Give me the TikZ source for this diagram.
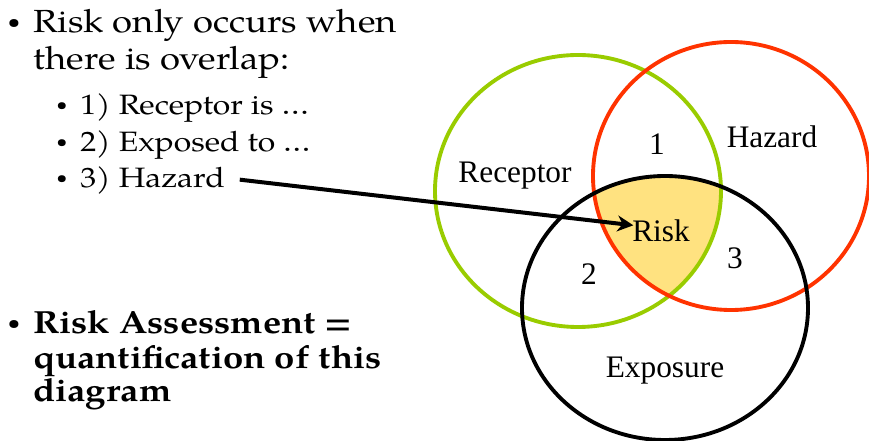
\documentclass[tikz,border=0pt]{standalone}
\usepackage{fontspec}
\setmainfont{Liberation Serif}
\newfontfamily\palfont{TeX Gyre Pagella}[FakeStretch=1.14]
\usetikzlibrary{arrows.meta,positioning}
\definecolor{leafgreen}{RGB}{153,204,0}
\definecolor{hazred}{RGB}{255,51,0}
\definecolor{riskyellow}{RGB}{255,226,128}
\tikzset{
  ring/.style={line width=2.9pt},
  lbl/.style={font=\fontsize{23.5}{27}\selectfont,anchor=base,inner sep=0pt},
  bul/.style={font=\palfont\fontsize{24}{28}\selectfont,anchor=base west,inner sep=0pt},
  subbul/.style={font=\palfont\fontsize{21}{25}\selectfont,anchor=base west,inner sep=0pt},
  boldbul/.style={bul,font=\palfont\bfseries\fontsize{24}{28}\selectfont},
  dot/.style={font=\palfont\fontsize{15}{18}\selectfont,anchor=center,inner sep=0pt},
  arr/.style={-{Stealth[length=12pt,width=12pt]},line width=3pt},
}
\begin{document}
\begin{tikzpicture}[x=0.75pt,y=-0.75pt]
  \useasboundingbox (0,0) rectangle (869,441);
  % risk area = all three overlapping
  \begin{scope}
    \clip (578,191) ellipse [x radius=143,y radius=136];
    \clip (731,176) ellipse [x radius=138,y radius=134];
    \fill[riskyellow] (665,308) ellipse [x radius=143,y radius=132];
  \end{scope}
  \draw[ring,leafgreen] (578,191) ellipse [x radius=143,y radius=136];
  \draw[ring,hazred] (731,176) ellipse [x radius=138,y radius=134];
  \draw[ring,black] (665,308) ellipse [x radius=143,y radius=132];
  % labels
  \node[lbl] (rec) at (515,183) {Receptor};
  \node[lbl] (haz) at (772,148) {Hazard};
  \node[lbl] (one) at (657,155) {1};
  \node[lbl] (risk) at (661,242) {Risk};
  \node[lbl] (two) at (589,285) {2};
  \node[lbl] (three) at (735,269) {3};
  \node[lbl] (expo) at (665,378) {Exposure};
  % bullet text
  \node[dot] (b1) at (14,24) {\textbullet};
  \node[bul] (t1) at (33,33) {Risk only occurs when};
  \node[bul] (t2) at (33,70) {there is overlap:};
  \foreach \y/\t/\n in {115/{1) Receptor is …}/s1, 152/{2) Exposed to …}/s2, 188/{3) Hazard}/s3}{
    \node[dot,font=\palfont\fontsize{13}{16}\selectfont] (d\n) at (62,\y-8) {\textbullet};
    \node[subbul] (\n) at (80,\y) {\t};}
  \node[dot] (b2) at (14,325) {\textbullet};
  \node[boldbul] (q1) at (33,334) {Risk Assessment =};
  \node[boldbul] (q2) at (33,369) {quantification of this};
  \node[boldbul] (q3) at (33,402) {diagram};
  % arrow
  \draw[arr] ([xshift=11pt,yshift=1pt]s3.east) -- ([xshift=1pt,yshift=-4pt]risk.north west);
\end{tikzpicture}
\end{document}
